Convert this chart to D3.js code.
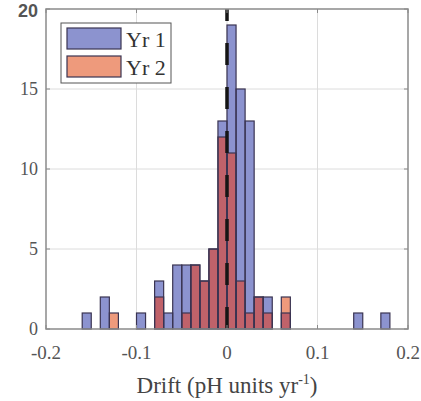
<!DOCTYPE html>
<html>
<head>
<meta charset="utf-8">
<script src="https://cdn.jsdelivr.net/npm/d3@7"></script>
<style>
body { margin: 0; background: #fff; }
text { font-family: "Liberation Serif", "DejaVu Serif", serif; }
</style>
</head>
<body>
<svg id="chart" width="421" height="401"></svg>
<script>
// lower edge of each non-empty bin (bin width 0.01)
var binLow = [-0.16, -0.14, -0.13, -0.10, -0.08, -0.07, -0.06, -0.05, -0.04, -0.03,
	-0.02, -0.01, 0.00, 0.01, 0.02, 0.03, 0.04, 0.06, 0.14, 0.17];
var yr1 = [1, 2, 0, 1, 3, 1, 4, 4, 4, 3, 5, 13, 19, 15, 13, 2, 2, 1, 1, 1];
var yr2 = [0, 0, 1, 0, 2, 0, 0, 1, 4, 3, 5, 12, 11, 3, 1, 2, 1, 2, 0, 0];
var binWidth = 0.01;

var xTicks = [-0.2, -0.1, 0, 0.1, 0.2];
var xTickLabels = ["-0.2", "-0.1", "0", "0.1", "0.2"];
var yTicks = [0, 5, 10, 15, 20];
var seriesNames = ["Yr 1", "Yr 2"];

var colBlue = "#8c93cf", colOrange = "#ee9a7c", colBoth = "#c0626a", colEdge = "#3a3452";

var svg = d3.select("#chart");
var pLeft = 46, pRight = 408, pTop = 9, pBottom = 329;

var x = d3.scaleLinear().domain([-0.2, 0.2]).range([pLeft, pRight]);
var y = d3.scaleLinear().domain([0, 20]).range([pBottom, pTop]);

var bins = binLow.map(function(b, i) {
	return {lo: b, hi: b + binWidth, a: yr1[i], b: yr2[i]};
});

// grid
var grid = svg.append("g");
grid.selectAll("line.gx").data(xTicks.slice(1, -1)).enter().append("line")
	.attr("x1", function(d) { return x(d); }).attr("x2", function(d) { return x(d); })
	.attr("y1", pTop).attr("y2", pBottom)
	.attr("stroke", "#dcdcdc").attr("stroke-width", 1);
grid.selectAll("line.gy").data(yTicks.slice(1, -1)).enter().append("line")
	.attr("y1", function(d) { return y(d); }).attr("y2", function(d) { return y(d); })
	.attr("x1", pLeft).attr("x2", pRight)
	.attr("stroke", "#dcdcdc").attr("stroke-width", 1);

// bars
var g = svg.append("g");
function barRect(sel, val) {
	sel.attr("x", function(d) { return x(d.lo); })
		.attr("width", function(d) { return x(d.hi) - x(d.lo); })
		.attr("y", function(d) { return y(val(d)); })
		.attr("height", function(d) { return y(0) - y(val(d)); });
}
g.selectAll("rect.b1").data(bins.filter(function(d) { return d.a > 0; })).enter().append("rect")
	.call(barRect, function(d) { return d.a; }).attr("fill", colBlue);
g.selectAll("rect.b2").data(bins.filter(function(d) { return d.b > 0; })).enter().append("rect")
	.call(barRect, function(d) { return d.b; }).attr("fill", colOrange);
g.selectAll("rect.both").data(bins.filter(function(d) { return Math.min(d.a, d.b) > 0; })).enter().append("rect")
	.call(barRect, function(d) { return Math.min(d.a, d.b); }).attr("fill", colBoth);
g.selectAll("rect.e1").data(bins.filter(function(d) { return d.a > 0; })).enter().append("rect")
	.call(barRect, function(d) { return d.a; })
	.attr("fill", "none").attr("stroke", colEdge).attr("stroke-width", 1.2);
g.selectAll("rect.e2").data(bins.filter(function(d) { return d.b > 0; })).enter().append("rect")
	.call(barRect, function(d) { return d.b; })
	.attr("fill", "none").attr("stroke", colEdge).attr("stroke-width", 1.2);

// dashed zero line
svg.append("line")
	.attr("x1", x(0)).attr("x2", x(0))
	.attr("y1", y(0)).attr("y2", y(20))
	.attr("stroke", "#151515").attr("stroke-width", 3.5)
	.attr("stroke-dasharray", "22,22");

// frame and ticks
svg.append("rect").attr("x", pLeft).attr("y", pTop)
	.attr("width", pRight - pLeft).attr("height", pBottom - pTop)
	.attr("fill", "none").attr("stroke", "#8a8a8a").attr("stroke-width", 1.5);
var ticks = svg.append("g").attr("stroke", "#8a8a8a").attr("stroke-width", 1);
xTicks.forEach(function(t) {
	ticks.append("line").attr("x1", x(t)).attr("x2", x(t)).attr("y1", pBottom).attr("y2", pBottom - 4);
	ticks.append("line").attr("x1", x(t)).attr("x2", x(t)).attr("y1", pTop).attr("y2", pTop + 4);
});
yTicks.forEach(function(t) {
	ticks.append("line").attr("y1", y(t)).attr("y2", y(t)).attr("x1", pLeft).attr("x2", pLeft + 4);
	ticks.append("line").attr("y1", y(t)).attr("y2", y(t)).attr("x1", pRight).attr("x2", pRight - 4);
});

// tick labels
svg.selectAll("text.xt").data(xTicks).enter().append("text")
	.attr("x", function(d) { return x(d); })
	.attr("y", 359)
	.attr("text-anchor", "middle")
	.attr("font-size", 19).attr("fill", "#555")
	.text(function(d, i) { return xTickLabels[i]; });
svg.selectAll("text.yt").data(yTicks).enter().append("text")
	.attr("x", 38)
	.attr("y", function(d) { return d === 20 ? y(d) + 8 : y(d) + 6; })
	.attr("text-anchor", "end")
	.attr("font-size", 18).attr("fill", "#555")
	.style("font-family", function(d) { return d === 20 ? "'Liberation Sans', Arial, sans-serif" : null; })
	.style("font-weight", function(d) { return d === 20 ? "bold" : null; })
	.text(function(d) { return d; });

// x label
var xl = svg.append("text")
	.attr("x", x(0)).attr("y", 393)
	.attr("text-anchor", "middle")
	.attr("font-size", 23).attr("fill", "#444");
xl.append("tspan").text("Drift (pH units yr");
xl.append("tspan").attr("dy", -9).attr("font-size", 14).text("-1");
xl.append("tspan").attr("dy", 9).text(")");

// legend
var legend = svg.append("g");
legend.append("rect").attr("x", 61).attr("y", 23).attr("width", 110).attr("height", 60)
	.attr("fill", "#fff").attr("stroke", "#555").attr("stroke-width", 1);
var legColors = [colBlue, colOrange];
seriesNames.forEach(function(name, i) {
	legend.append("rect").attr("x", 67).attr("y", 28 + i * 28).attr("width", 54).attr("height", 21)
		.attr("fill", legColors[i]).attr("stroke", colEdge).attr("stroke-width", 1.2);
	legend.append("text").attr("x", 126).attr("y", 47 + i * 28)
		.attr("font-size", 22).attr("fill", "#333").text(name);
});
</script>
</body>
</html>
